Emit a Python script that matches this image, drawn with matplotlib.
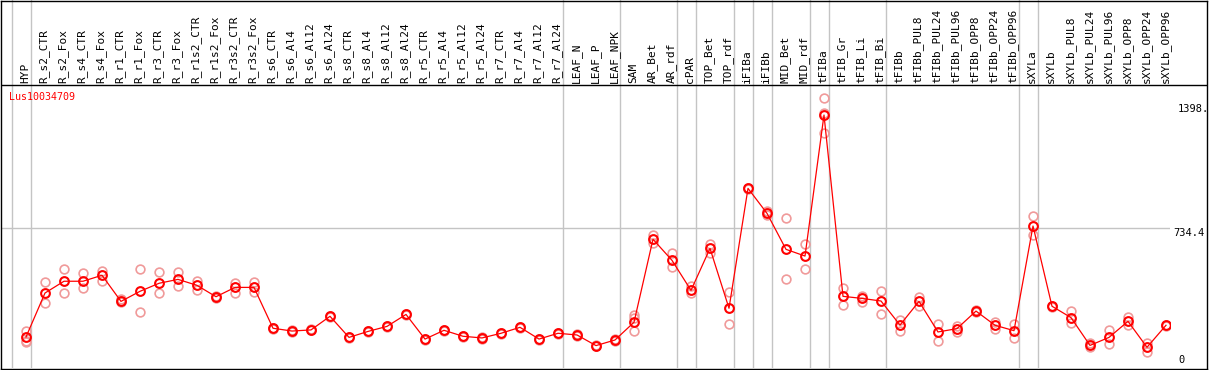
import matplotlib
matplotlib.use("Agg")
import matplotlib.pyplot as plt
from matplotlib.lines import Line2D
import numpy as np

categories = ["HYP", "R_s2_CTR", "R_s2_Fox", "R_s4_CTR", "R_s4_Fox", "R_r1_CTR", "R_r1_Fox",
              "R_r3_CTR", "R_r3_Fox", "R_r1s2_CTR", "R_r1s2_Fox", "R_r3s2_CTR", "R_r3s2_Fox",
              "R_s6_CTR", "R_s6_Al4", "R_s6_Al12", "R_s6_Al24", "R_s8_CTR", "R_s8_Al4",
              "R_s8_Al12", "R_s8_Al24", "R_r5_CTR", "R_r5_Al4", "R_r5_Al12", "R_r5_Al24",
              "R_r7_CTR", "R_r7_Al4", "R_r7_Al12", "R_r7_Al24", "LEAF_N", "LEAF_P", "LEAF_NPK",
              "SAM", "AR_Bet", "AR_rdf", "cPAR", "TOP_Bet", "TOP_rdf", "iFIBa", "iFIBb",
              "MID_Bet", "MID_rdf", "tFIBa", "tFIB_Gr", "tFIB_Li", "tFIB_Bi", "tFIBb",
              "tFIBb_PUL8", "tFIBb_PUL24", "tFIBb_PUL96", "tFIBb_OPP8", "tFIBb_OPP24",
              "tFIBb_OPP96", "sXYLa", "sXYLb", "sXYLb_PUL8", "sXYLb_PUL24", "sXYLb_PUL96",
              "sXYLb_OPP8", "sXYLb_OPP24", "sXYLb_OPP96"]

# sizes of the sample groups (separated by grey vertical lines)
group_sizes = [1, 28, 3, 3, 1, 2, 1, 1, 2, 1, 3, 7, 1, 7]

mean_values = [150, 386, 449, 449, 481, 341, 395, 438, 459, 427, 366, 416, 416,
               197, 182, 188, 261, 148, 180, 207, 271, 139, 186, 154, 145, 170, 202, 139, 170,
               161, 104, 134,
               229, 674, 561, 400, 625, 304, 947, 813, 620, 584, 1340, 368, 357, 343, 214,
               341, 177, 195, 289, 213, 184, 745, 315, 254, 105, 148, 234, 95, 213]

replicates = [[184, 130, 122], [443, 331], [513, 386], [493, 411], [506, 450], [354, 336],
              [513, 282], [497, 384], [497, 425], [452, 402], [371, 361], [441, 388], [447, 391],
              [200, 194], [185, 179], [191, 185], [264, 258], [151, 145], [183, 177], [210, 204],
              [274, 268], [142, 136], [189, 183], [157, 151], [148, 142], [173, 167], [205, 199],
              [142, 136], [173, 167], [164, 158], [107, 101], [137, 131],
              [266, 252, 182], [697, 656], [599, 524], [425, 384], [649, 602], [390, 218],
              [950, 944], [827, 806], [786, 459], [649, 515], [1429, 1352, 1245], [411, 322],
              [371, 336], [397, 271], [241, 184], [366, 316], [218, 130], [209, 179],
              [294, 284], [232, 195], [218, 143], [797, 697], [318, 312], [289, 224],
              [116, 95], [188, 111], [259, 214], [120, 70], [216, 210]]

gene_name = "Lus10034709"
ytick_values = [0, 734.4, 1398]
ytick_labels = ["0", "734.4", "1398."]

W, H = 1209, 370
fig = plt.figure(figsize=(W / 100, H / 100), dpi=100)

n = len(categories)
x = np.arange(n)
xmin, xmax = -25 / 19, -25 / 19 + 1169 / 19

bounds = np.concatenate([[-1], np.cumsum(group_sizes) - 1]) + 0.24
grey = "#c4c4c4"

# main plot axes
ax = fig.add_axes([1 / W, (H - 368) / H, 1169 / W, 282 / H])
ax.set_xlim(xmin, xmax)
ax.set_ylim(-16.1, 1495.6)
for s in ax.spines.values():
    s.set_visible(False)
ax.set_xticks([])
ax.set_yticks([])
for b in bounds:
    ax.axvline(b, color=grey, lw=1.0, zorder=1)
ax.axhline(734.4, color=grey, lw=1.0, zorder=1)

for i, reps in enumerate(replicates):
    ax.plot([x[i]] * len(reps), reps, linestyle="none", marker="o", ms=6.3,
            mfc="none", mec="#f09a9a", mew=1.2, zorder=2)
ax.plot(x, mean_values, color="#ff0000", lw=0.9, zorder=3)
ax.plot(x, mean_values, linestyle="none", marker="o", ms=6.3, mfc="none",
        mec="#ff0000", mew=1.5, zorder=4)

ax.text(8 / 1169, (368 - 97.5) / 282, gene_name, transform=ax.transAxes, color="#ff0000",
        fontsize=7.2, family="DejaVu Sans Mono", va="center", ha="left")

ytrans = ax.get_yaxis_transform()
offsets = [1178, 1173, 1178]
for v, lab, px in zip(ytick_values, ytick_labels, offsets):
    ax.text((px - 1) / 1169, v, lab, transform=ytrans, fontsize=7.5,
            family="DejaVu Sans Mono", va="bottom" if v == 0 else "top", ha="left",
            color="black", clip_on=False)

# header axes with rotated sample names
axh = fig.add_axes([1 / W, (H - 85) / H, 1169 / W, 85 / H])
axh.set_xlim(xmin, xmax)
axh.set_ylim(85, 0)
axh.axis("off")
for b in bounds:
    axh.axvline(b, color=grey, lw=1.0, zorder=1)
for i, c in enumerate(categories):
    axh.text(x[i] - 0.05, 83, c, rotation=90, ha="center", va="bottom", fontsize=8,
             family="DejaVu Sans Mono", color="black")

# outer frame and header separator
frame = fig.add_axes([1 / W, (H - 368.5) / H, 1206 / W, 368 / H])
frame.set_facecolor("none")
frame.set_xticks([])
frame.set_yticks([])
for s in frame.spines.values():
    s.set_color("black")
    s.set_linewidth(1.0)
frame.set_zorder(10)
frame.add_line(Line2D([0, 1], [(368.5 - 85) / 368, (368.5 - 85) / 368],
                      transform=frame.transAxes, color="black", lw=1.0))

fig.savefig("out.png", dpi=100)
